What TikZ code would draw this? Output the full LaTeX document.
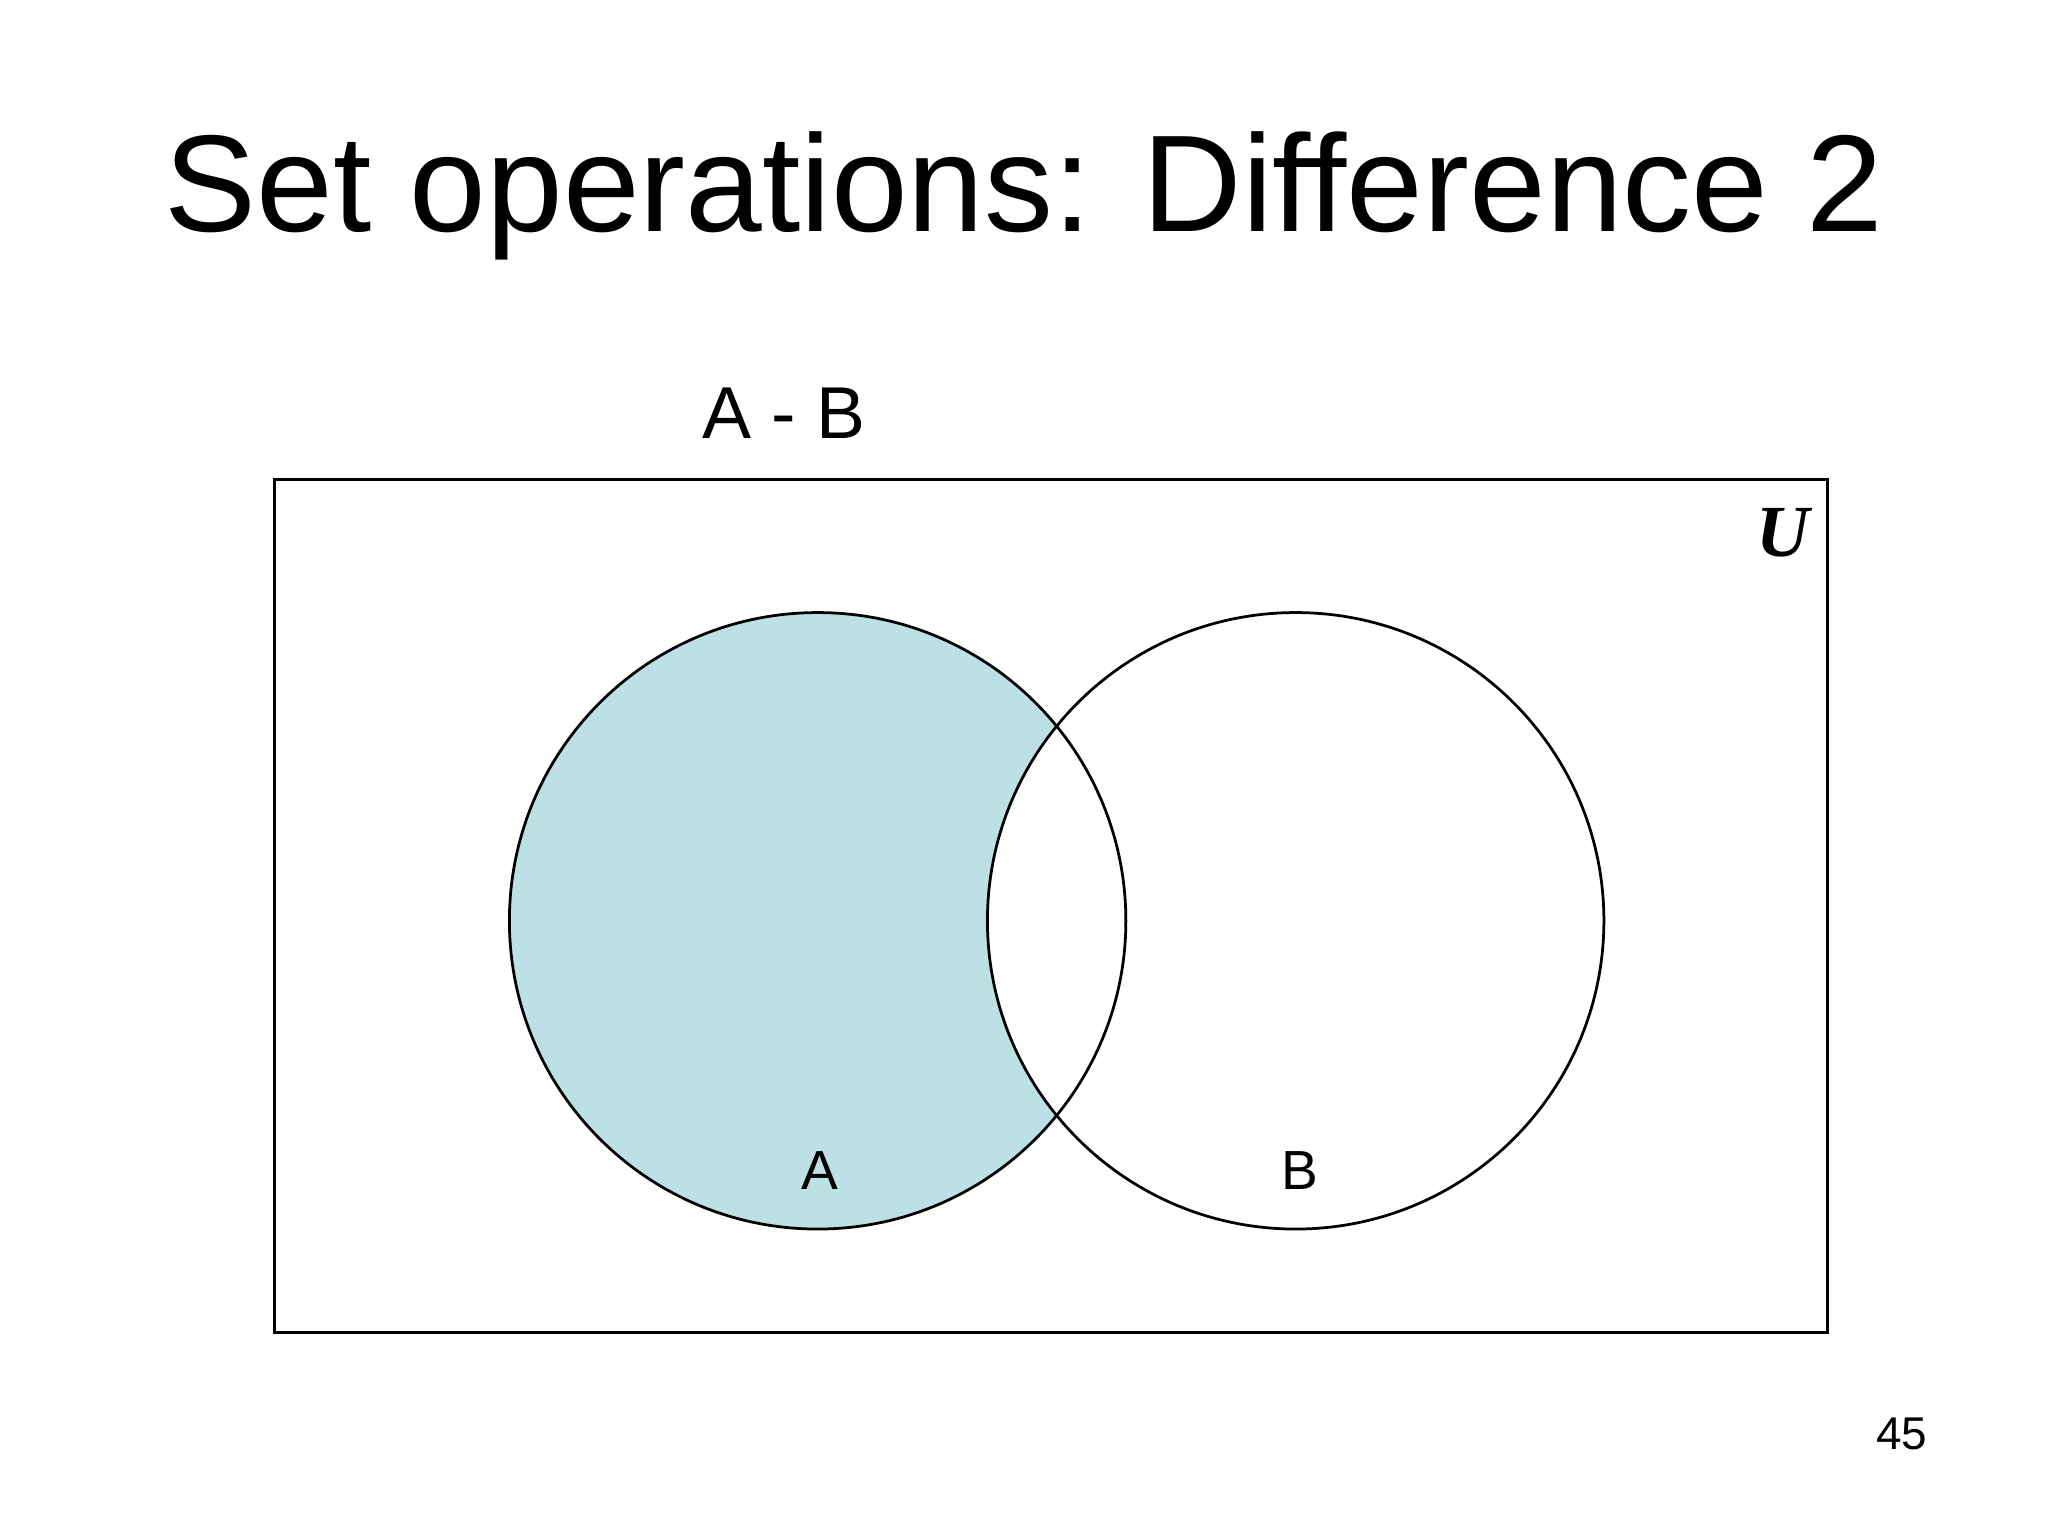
\documentclass[tikz,border=0pt]{standalone}
\usepackage{fontspec}
\setmainfont{Liberation Sans}
\newfontfamily\serifu{Liberation Serif}
\definecolor{setfill}{HTML}{BCE0E3}
\begin{document}
\begin{tikzpicture}[x=0.01cm,y=-0.01cm,
  outline/.style={draw=black,line width=0.6pt},
  lbl/.style={inner sep=0pt,anchor=center}]
\useasboundingbox (0,0) rectangle (1568,1176);
\fill[white] (0,0) rectangle (1568,1176);
\node[lbl] (title) at (784,150) {\fontsize{30}{36}\selectfont Set operations: Difference 2};
\node[lbl] (amb) at (600,316) {\fontsize{16}{19}\selectfont A - B};
\node[outline,minimum width=1189*0.01cm,minimum height=653*0.01cm,anchor=north west,inner sep=0pt] (U) at (209,366) {};
\node[lbl] (ulabel) at (1365,408) {\fontsize{16}{19}\selectfont\serifu\bfseries\itshape U};
\fill[setfill] (626,705) circle (236);
\fill[white] (992,705) circle (236);
\node[outline,circle,minimum size=472*0.01cm,inner sep=0pt] (A) at (626,705) {};
\node[outline,circle,minimum size=472*0.01cm,inner sep=0pt] (B) at (992,705) {};
\node[lbl] (alabel) at (628,896) {\fontsize{12}{14}\selectfont A};
\node[lbl] (blabel) at (995,896) {\fontsize{12}{14}\selectfont B};
\node[lbl] (page) at (1456,1098) {\fontsize{10}{12}\selectfont 45};
\end{tikzpicture}
\end{document}
